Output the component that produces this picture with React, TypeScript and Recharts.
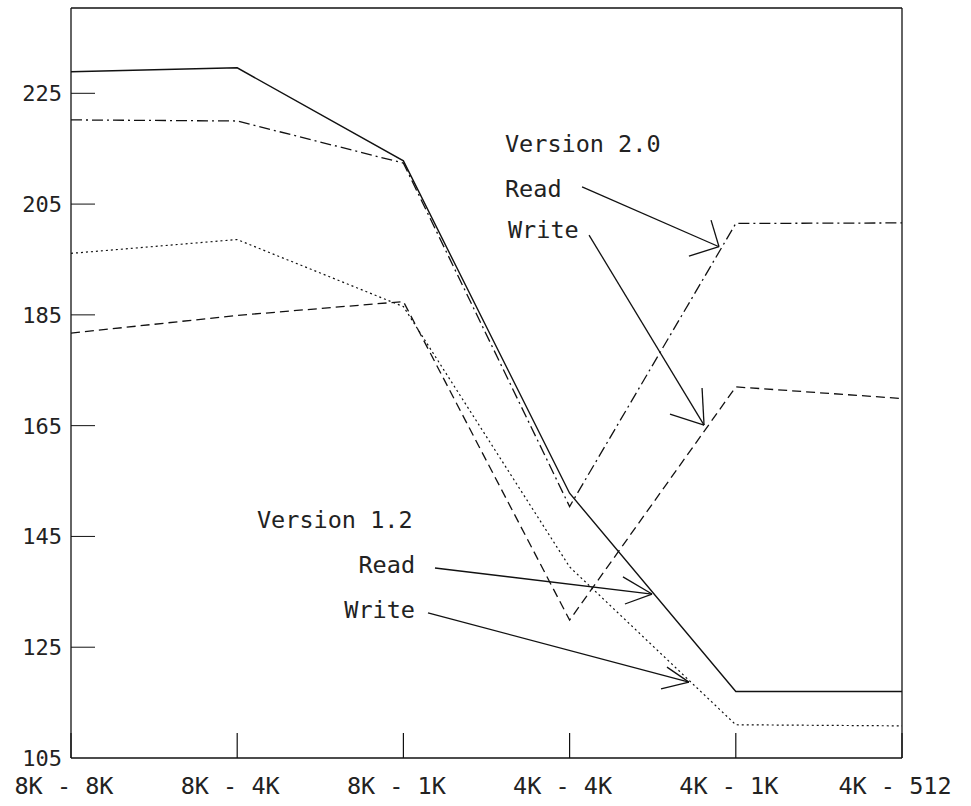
import React from 'react';
import { LineChart, Line, XAxis, YAxis, ReferenceLine, ReferenceDot } from 'recharts';

const categories = ['8K - 8K', '8K - 4K', '8K - 1K', '4K - 4K', '4K - 1K', '4K - 512'];
const v12Read = [228.9, 229.6, 212.8, 152.8, 117.0, 117.0];
const v12Write = [196.1, 198.6, 186.5, 139.5, 111.0, 110.8];
const v20Read = [220.2, 220.0, 212.4, 150.4, 201.5, 201.6];
const v20Write = [181.7, 184.9, 187.4, 129.9, 172.0, 169.9];
const yTicks = [105, 125, 145, 165, 185, 205, 225];
const yMin = 105;
const yMax = 240.4;

// annotation texts: label, x (category index), y (value), anchor
const noteLabels = ['Version 2.0', 'Read', 'Write', 'Version 1.2', 'Read', 'Write'];
const noteX = [2.611, 2.611, 2.629, 1.119, 2.07, 2.07];
const noteY = [214.4, 206.3, 198.9, 146.5, 138.4, 130.3];
const noteAnchor = ['start', 'start', 'start', 'start', 'end', 'end'];

// arrows: start, tip, two head ends (x = category index, y = value)
const arrowStart = [[3.075, 208.1], [3.117, 199.4], [2.19, 139.3], [2.148, 131.2]];
const arrowTip = [[3.899, 197.3], [3.809, 165.1], [3.496, 134.6], [3.718, 118.7]];
const arrowHeadA = [[3.851, 202.1], [3.797, 171.8], [3.321, 137.7], [3.586, 121.4]];
const arrowHeadB = [[3.718, 195.6], [3.604, 167.1], [3.333, 132.8], [3.55, 117.5]];

const data = categories.map((c, i) => ({
  i,
  label: c,
  v12Read: v12Read[i],
  v12Write: v12Write[i],
  v20Read: v20Read[i],
  v20Write: v20Write[i],
}));

const MONO = '"DejaVu Sans Mono", "Liberation Mono", monospace';
const INK = '#111';
const TEXT_INK = '#222';

const YTick = (props: any) => {
  const { x, y, payload } = props;
  return (
    <g>
      {payload.value !== yMin && (
        <line x1={x} x2={x + 24} y1={y} y2={y} stroke={INK} strokeWidth={1} />
      )}
      <text x={x - 9} y={y + 8} textAnchor="end" fontFamily={MONO} fontSize={22} fill={TEXT_INK}>
        {payload.value}
      </text>
    </g>
  );
};

const XTick = (props: any) => {
  const { x, y, payload } = props;
  return (
    <g>
      <line x1={x} x2={x} y1={y} y2={y - 25} stroke={INK} strokeWidth={1.2} />
      <text
        x={x - 7}
        y={y + 36}
        textAnchor="middle"
        fontFamily={MONO}
        fontSize={23.5}
        fill={TEXT_INK}
        style={{ whiteSpace: 'pre' }}
      >
        {categories[payload.value]}
      </text>
    </g>
  );
};

const makeText = (label: string, anchor: string) => (p: any) => (
  <text
    x={p.cx}
    y={p.cy}
    textAnchor={anchor as any}
    fontFamily={MONO}
    fontSize={23.5}
    fill={TEXT_INK}
  >
    {label}
  </text>
);

export default function App() {
  return (
    <div style={{ position: 'absolute', left: 0, top: 0, background: '#fff' }}>
      <LineChart
        width={971}
        height={806}
        data={data}
        margin={{ top: 8, right: 69, bottom: 0, left: 0 }}
      >
        <XAxis
          dataKey="i"
          type="number"
          domain={[0, 5]}
          ticks={[0, 1, 2, 3, 4, 5]}
          allowDataOverflow
          height={48}
          tickSize={0}
          tickMargin={0}
          tickLine={false}
          axisLine={{ stroke: INK, strokeWidth: 1.3 }}
          tick={<XTick />}
          interval={0}
        />
        <YAxis
          type="number"
          domain={[yMin, yMax]}
          ticks={yTicks}
          allowDataOverflow
          width={71}
          tickSize={0}
          tickMargin={0}
          tickLine={false}
          axisLine={{ stroke: INK, strokeWidth: 1.3 }}
          tick={<YTick />}
          interval={0}
        />
        <ReferenceLine y={yMax} stroke={INK} strokeWidth={1.3} />
        <ReferenceLine x={5} stroke={INK} strokeWidth={1.3} />

        <Line
          dataKey="v12Read"
          stroke={INK}
          strokeWidth={1.4}
          dot={false}
          isAnimationActive={false}
        />
        <Line
          dataKey="v12Write"
          stroke={INK}
          strokeWidth={1.2}
          strokeDasharray="2 3"
          dot={false}
          isAnimationActive={false}
        />
        <Line
          dataKey="v20Read"
          stroke={INK}
          strokeWidth={1.3}
          strokeDasharray="11 4 2 4"
          dot={false}
          isAnimationActive={false}
        />
        <Line
          dataKey="v20Write"
          stroke={INK}
          strokeWidth={1.3}
          strokeDasharray="9 5"
          dot={false}
          isAnimationActive={false}
        />

        {arrowStart.map((s, k) => (
          <ReferenceLine
            key={'a' + k}
            segment={[
              { x: s[0], y: s[1] },
              { x: arrowTip[k][0], y: arrowTip[k][1] },
            ]}
            stroke={INK}
            strokeWidth={1.3}
          />
        ))}
        {arrowTip.map((t, k) => (
          <ReferenceLine
            key={'ha' + k}
            segment={[
              { x: arrowHeadA[k][0], y: arrowHeadA[k][1] },
              { x: t[0], y: t[1] },
            ]}
            stroke={INK}
            strokeWidth={1.3}
          />
        ))}
        {arrowTip.map((t, k) => (
          <ReferenceLine
            key={'hb' + k}
            segment={[
              { x: arrowHeadB[k][0], y: arrowHeadB[k][1] },
              { x: t[0], y: t[1] },
            ]}
            stroke={INK}
            strokeWidth={1.3}
          />
        ))}
        {noteLabels.map((l, k) => (
          <ReferenceDot
            key={'t' + k}
            x={noteX[k]}
            y={noteY[k]}
            r={0}
            shape={makeText(l, noteAnchor[k])}
          />
        ))}
      </LineChart>
    </div>
  );
}
